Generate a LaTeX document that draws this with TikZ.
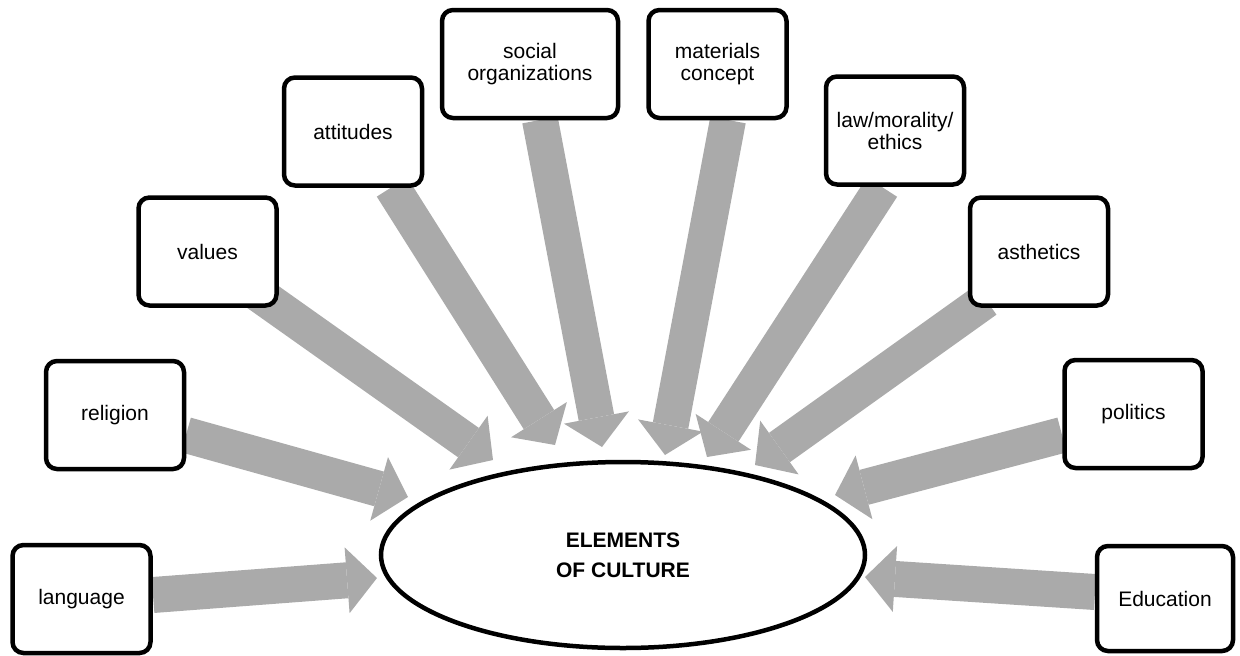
\documentclass[tikz,border=0pt]{standalone}
\usepackage{fontspec}
\setmainfont{Liberation Sans}
\usetikzlibrary{arrows.meta,shapes.geometric}
\definecolor{arrowgray}{HTML}{AAAAAA}
\begin{document}
\begin{tikzpicture}[x=1pt,y=-1pt,
  box/.style={draw=black, line width=4.5pt, rounded corners=11pt, fill=white,
    align=center, inner sep=0pt, minimum width=138pt, minimum height=108pt,
    font=\fontsize{21}{22}\selectfont},
  feed/.style={draw=arrowgray, line width=36pt,
    -{Triangle[width=66pt,length=30pt,line width=0pt]}},
  core/.style={draw=black, ellipse, line width=4.5pt, fill=white, inner sep=0pt,
    minimum width=484pt, minimum height=186pt, align=center,
    font=\fontsize{21}{30}\selectfont\bfseries}
]
\useasboundingbox (0,0) rectangle (1240,656);

% arrow tails and tips
\coordinate (tLang) at (153,595);   \coordinate (hLang) at (377,578);
\coordinate (tRel)  at (186,435);   \coordinate (hRel)  at (408,497);
\coordinate (tVal)  at (253,290);   \coordinate (hVal)  at (493,460);
\coordinate (tAtt)  at (392,187);   \coordinate (hAtt)  at (555,445);
\coordinate (tSoc)  at (540,120);   \coordinate (hSoc)  at (602,447);
\coordinate (tMat)  at (728,120);   \coordinate (hMat)  at (665,455);
\coordinate (tLaw)  at (882,187);   \coordinate (hLaw)  at (707,457);
\coordinate (tAst)  at (986,300);   \coordinate (hAst)  at (755,465);
\coordinate (tPol)  at (1062,435);  \coordinate (hPol)  at (835,495);
\coordinate (tEdu)  at (1095,592);  \coordinate (hEdu)  at (865,577);

\foreach \n in {Lang,Rel,Val,Att,Soc,Mat,Law,Ast,Pol,Edu}
  \draw[feed] (t\n) -- (h\n);

\node[core] (elem) at (623,555) {ELEMENTS\\OF CULTURE};

\node[box] (lang) at (81.5,599)   {language};
\node[box] (rel)  at (115,415)    {religion};
\node[box] (val)  at (207.5,251.5){values};
\node[box] (att)  at (353,131.5)  {attitudes};
\node[box, minimum width=176pt] (soc) at (530,64) {social\\organizations};
\node[box] (mat)  at (717.5,64)   {materials\\concept};
\node[box] (law)  at (895,130.5)  {law/morality/\\ethics};
\node[box] (ast)  at (1039,251.5) {asthetics};
\node[box] (pol)  at (1133.5,414) {politics};
\node[box, minimum width=136pt, minimum height=105pt] (edu) at (1165,598.5) {Education};
\end{tikzpicture}
\end{document}
